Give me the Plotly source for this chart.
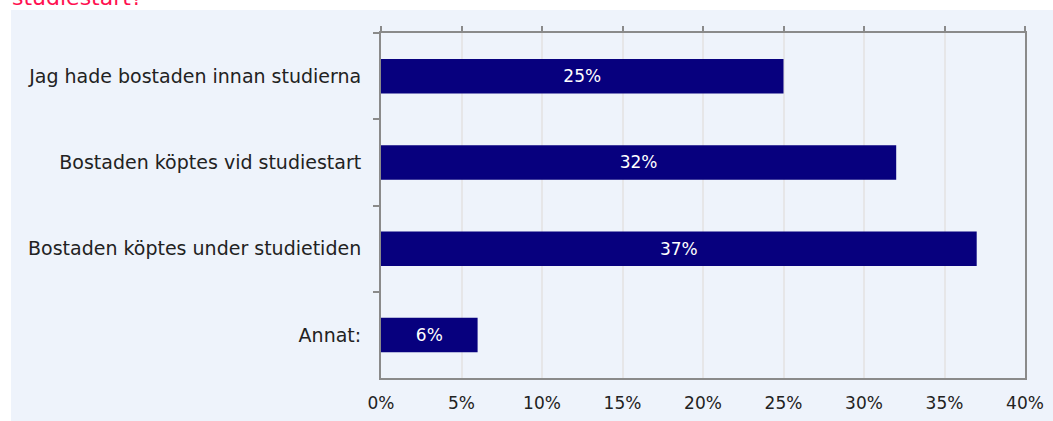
import plotly.graph_objects as go

categories = ["Jag hade bostaden innan studierna", "Bostaden köptes vid studiestart",
              "Bostaden köptes under studietiden", "Annat:"]
values = [25, 32, 37, 6]
tick_vals = [0, 5, 10, 15, 20, 25, 30, 35, 40]
tick_text = [f"{v}%" for v in tick_vals]
title_tail = "studiestart?"

W, H = 1053, 421
L, R, T, B = 381, 28, 33, 43
pw, ph = W - L - R, H - T - B

def px_x(p):
    return (p - L) / pw

def px_y(p):
    return 1 - (p - T) / ph

font_family = "'DejaVu Sans', 'Open Sans', sans-serif"

fig = go.Figure()
fig.add_trace(go.Bar(
    y=categories, x=values, orientation="h",
    marker=dict(color="#07007E", line=dict(width=0)),
    width=0.4,
    text=[f"{v}%" for v in values], textposition="inside",
    insidetextanchor="middle",
    textfont=dict(color="white", size=17, family=font_family),
    hoverinfo="skip",
))
# invisible trace to anchor the top axis
fig.add_trace(go.Scatter(x=[0], y=[categories[0]], xaxis="x2", mode="markers",
                         marker=dict(opacity=0), hoverinfo="skip", showlegend=False))

fig.update_layout(
    width=W, height=H,
    margin=dict(l=L, r=R, t=T, b=B, pad=0, autoexpand=False),
    paper_bgcolor="white",
    plot_bgcolor="rgba(0,0,0,0)",
    showlegend=False,
    font=dict(family=font_family, size=17, color="#222222"),
    xaxis=dict(
        range=[0, 40], tickvals=tick_vals, ticktext=tick_text,
        showgrid=True, gridcolor="#E6E6E8", gridwidth=1.5,
        showline=True, linecolor="#8A8A8A", linewidth=2, mirror=True,
        ticks="", zeroline=False, ticklabelstandoff=9, automargin=False,
        tickfont=dict(size=17, color="#222222"),
    ),
    xaxis2=dict(
        range=[0, 40], tickvals=tick_vals, overlaying="x", side="top",
        showgrid=False, showline=False, ticks="outside", ticklen=6,
        tickcolor="#8A8A8A", tickwidth=2, showticklabels=False, zeroline=False,
        automargin=False,
    ),
    yaxis=dict(
        autorange="reversed", type="category", tickson="boundaries",
        ticks="outside", ticklen=6, tickcolor="#8A8A8A", tickwidth=2,
        showline=True, linecolor="#8A8A8A", linewidth=2, mirror=True,
        showgrid=False, ticklabelstandoff=14, automargin=False,
        tickfont=dict(size=19, color="#222222"),
    ),
    shapes=[dict(
        type="rect", xref="paper", yref="paper", layer="below",
        x0=px_x(11), x1=px_x(W + 5), y0=px_y(H + 5), y1=px_y(10),
        fillcolor="#EEF3FB", line=dict(width=0),
    )],
    annotations=[dict(
        text=title_tail, xref="paper", yref="paper",
        x=px_x(10), y=px_y(12), xanchor="left", yanchor="bottom",
        showarrow=False, font=dict(size=22, color="#FF1150", family=font_family),
    )],
)

fig.write_html("out.html", config={"displayModeBar": False},
               post_script="document.body.style.margin='0';")
